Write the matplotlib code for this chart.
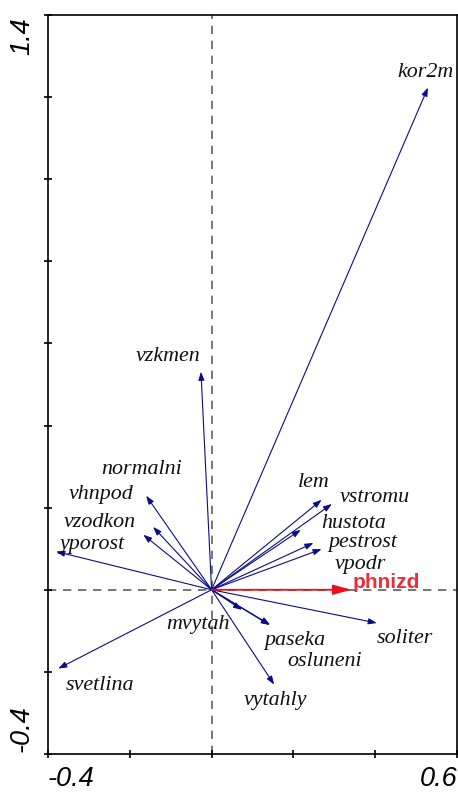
import matplotlib.pyplot as plt

# arrow tips (axis 1, axis 2)
names = ['kor2m', 'vzkmen', 'normalni', 'vhnpod', 'vzodkon', 'yporost', 'svetlina',
         'lem', 'vstromu', 'hustota', 'pestrost', 'vpodr',
         'mvytah', 'paseka', 'osluneni', 'soliter', 'vytahly']
ax1 = [0.529, -0.026, -0.160, -0.143, -0.167, -0.380, -0.375,
       0.269, 0.294, 0.218, 0.249, 0.269,
       0.074, 0.143, 0.142, 0.404, 0.153]
ax2 = [1.223, 0.531, 0.229, 0.153, 0.134, 0.093, -0.192,
       0.219, 0.209, 0.146, 0.114, 0.099,
       -0.049, -0.085, -0.086, -0.081, -0.231]

# label centres
lab_x = [0.522, -0.107, -0.170, -0.270, -0.273, -0.292, -0.273,
         0.250, 0.400, 0.348, 0.370, 0.363,
         -0.033, 0.204, 0.277, 0.473, 0.155]
lab_y = [1.259, 0.567, 0.292, 0.231, 0.163, 0.110, -0.234,
         0.261, 0.224, 0.161, 0.114, 0.061,
         -0.085, -0.124, -0.175, -0.119, -0.270]

# supplementary variable
sup_name = 'phnizd'
sup_x = 0.342
sup_y = 0.0
sup_lab = (0.428, 0.017)

fig = plt.figure(figsize=(4.58, 7.92), dpi=100)
ax = fig.add_axes([0.1048, 0.048, 0.8930, 0.9331])
ax.set_xlim(-0.4, 0.6)
ax.set_ylim(-0.4, 1.4)

ax.axvline(0, color='#606060', ls=(0, (5, 4)), lw=1.2, zorder=1)
ax.axhline(0, color='#606060', ls=(0, (5, 4)), lw=1.2, zorder=1)

for i in range(len(names)):
    ax.annotate('', xy=(ax1[i], ax2[i]), xytext=(0, 0),
                arrowprops=dict(arrowstyle='-|>,head_length=0.5,head_width=0.18',
                                color='#0c0c86', lw=0.8, shrinkA=0, shrinkB=0), zorder=3)
    ax.text(lab_x[i], lab_y[i], names[i], ha='center', va='center',
            family='Liberation Serif', style='italic', fontsize=15.8, color='#111111')

ax.annotate('', xy=(sup_x, sup_y), xytext=(0, 0),
            arrowprops=dict(arrowstyle='-|>,head_length=1.1,head_width=0.3',
                            color='#e8101c', lw=1.3, shrinkA=0, shrinkB=0), zorder=4)
ax.text(sup_lab[0], sup_lab[1], sup_name, ha='center', va='center',
        family='Liberation Sans', weight='bold', fontsize=15, color='#e8303a')

ax.set_xticks([-0.4, -0.2, 0, 0.2, 0.4, 0.6])
ax.set_yticks([-0.4, -0.2, 0, 0.2, 0.4, 0.6, 0.8, 1.0, 1.2, 1.4])
ax.set_xticklabels([])
ax.set_yticklabels([])
ax.tick_params(direction='inout', length=6, width=1.2, color='black')
for s in ax.spines.values():
    s.set_linewidth(1.2)

tf = dict(family='Liberation Sans', style='italic', fontsize=19.5, color='black')
fig.text(48 / 458, 1 - 779 / 792, '-0.4', ha='left', va='center', **tf)
fig.text(458 / 458, 1 - 779 / 792, '0.6', ha='right', va='center', **tf)
fig.text(22 / 458, 1 - 17 / 792, '1.4', ha='center', va='top', rotation=90, **tf)
fig.text(22 / 458, 1 - 752 / 792, '-0.4', ha='center', va='bottom', rotation=90, **tf)

fig.savefig('out.png')
